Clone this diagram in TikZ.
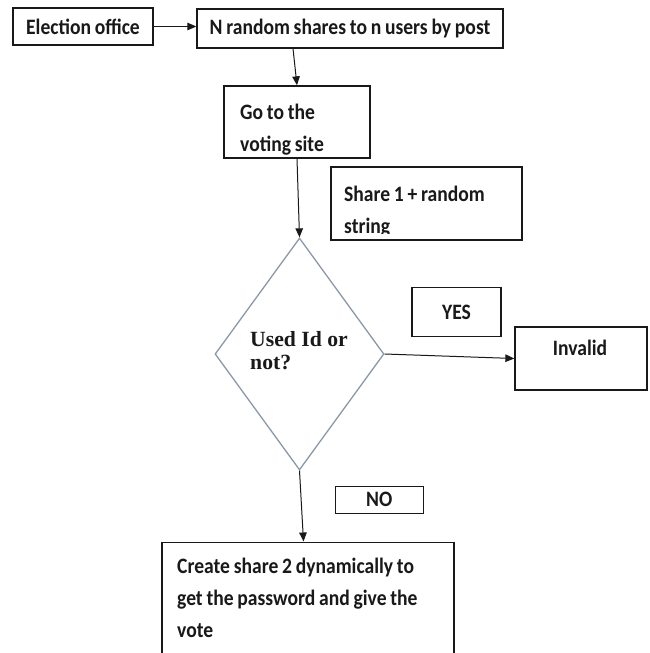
\documentclass[tikz,border=0pt]{standalone}
\usepackage{fontspec}
\newfontfamily\calib{Carlito}[FakeStretch=0.89,WordSpace=0.85]
\newfontfamily\tnr{Liberation Serif}
\usetikzlibrary{shapes.geometric,arrows.meta}
\definecolor{diacol}{RGB}{140,152,168}
\definecolor{ink}{RGB}{25,25,25}
\begin{document}
\begin{tikzpicture}[x=1pt,y=-1pt,
  box/.style={draw=ink,line width=1.3pt,inner sep=0pt,fill=white},
  txt/.style={font=\calib\bfseries\fontsize{22}{32}\selectfont,text=ink},
  para/.style={txt,anchor=base west,inner sep=0pt,align=left},
  arr/.style={draw=ink,line width=1pt,-{Triangle[length=9pt,width=7.5pt]}}]
\useasboundingbox (0,0) rectangle (649,653);
% boxes
\node[box,txt,minimum width=140pt,minimum height=37pt] (elec) at (83,26.5) {Election office};
\node[box,txt,minimum width=306pt,minimum height=39pt] (nrand) at (350,28.5) {N random shares to n users by post};
\node[box,minimum width=146pt,minimum height=72pt] (go) at (297,122) {};
\node[para] (gotxt) at (240,151) {Go to the\\voting site};
\node[box,minimum width=191pt,minimum height=73pt] (share) at (426.5,203.5) {};
\begin{scope}
  \clip (332,168) rectangle (521,233);
  \node[para] (sharetxt) at (344,233) {Share 1 + random\\string};
\end{scope}
\node[draw=diacol,line width=1.3pt,shape=diamond,minimum width=169pt,minimum height=232pt,inner sep=0pt] (dia) at (299.5,354) {};
\node[anchor=base west,inner sep=0pt,align=left,text=ink,font=\tnr\bfseries\fontsize{21.7}{23}\selectfont] (diatxt) at (250,369) {Used Id or\\not?};
\node[box,txt,minimum width=89pt,minimum height=49pt] (yes) at (456.5,312.3) {YES};
\node[box,minimum width=132pt,minimum height=63pt] (inv) at (581,358.5) {};
\node[txt,anchor=base,inner sep=0pt] (invtxt) at (580,355) {Invalid};
\node[box,txt,minimum width=88pt,minimum height=27pt] (no) at (379.3,499.7) {NO};
\node[box,minimum width=292pt,minimum height=120pt,anchor=north] (bot) at (308,541.5) {};
\node[para] (bottxt) at (177,637) {Create share 2 dynamically to\\get the password and give the\\vote};
% connectors
\draw[arr] (elec.east) -- (elec.east -| nrand.west);
\draw[arr] ([xshift=-4pt]go.north |- nrand.south) -- (go.north);
\draw[arr] (go.south) -- (dia.north);
\draw[arr] (dia.east) -- (inv.west);
\draw[arr] (dia.south) -- ([xshift=4pt]dia.south |- bot.north);
\end{tikzpicture}
\end{document}
